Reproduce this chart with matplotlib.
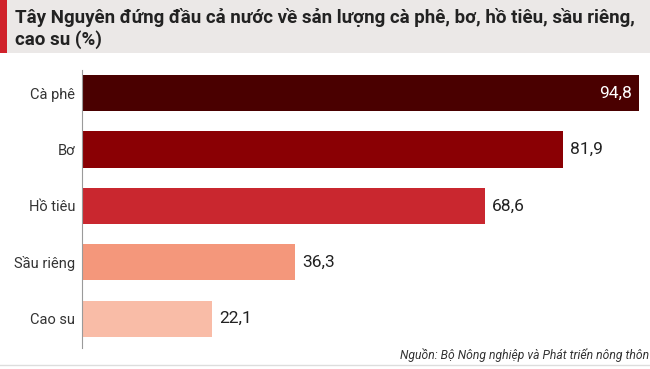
import matplotlib.pyplot as plt
from matplotlib.patches import Rectangle
from matplotlib.lines import Line2D

# data
crops = ["Cà phê", "Bơ", "Hồ tiêu", "Sầu riêng", "Cao su"]
shares = [94.8, 81.9, 68.6, 36.3, 22.1]
bar_colors = ["#4a0000", "#8a0004", "#c9272f", "#f4977b", "#f9bca7"]
title = "Tây Nguyên đứng đầu cả nước về sản lượng cà phê, bơ, hồ tiêu, sầu riêng,\ncao su (%)"
source = "Nguồn: Bộ Nông nghiệp và Phát triển nông thôn"

plt.rcParams['font.family'] = ['Roboto', 'DejaVu Sans']

W, H = 650, 369
fig = plt.figure(figsize=(W / 100, H / 100), dpi=100)
fig.patch.set_facecolor("white")

# title band
fig.patches.append(Rectangle((0, 1 - 53 / H), 1, 53 / H, transform=fig.transFigure,
                             facecolor="#ebe8e7", edgecolor="none", zorder=0))
fig.patches.append(Rectangle((0, 1 - 53 / H), 7 / W, 53 / H, transform=fig.transFigure,
                             facecolor="#d0222b", edgecolor="none", zorder=1))
fig.text(15 / W, 1 - 8 / H, title, ha="left", va="top", fontsize=13.5,
         fontweight="bold", color="#222222", linespacing=1.22)

ax = fig.add_axes([82 / W, 1 - 348 / H, 568 / W, 278 / H])
y = list(range(len(crops)))
ax.barh(y, shares, height=0.64, color=bar_colors, edgecolor="none")
ax.set_xlim(0, 96.7)
ax.set_ylim(4.52, -0.41)

for i, v in enumerate(shares):
    txt = f"{v:.1f}".replace(".", ",")
    if i == 0:
        ax.text(v - 1.2, i, txt, ha="right", va="center", color="white", fontsize=12.5)
    else:
        ax.text(v + 1.2, i, txt, ha="left", va="center", color="#222222", fontsize=12.5)

ax.set_yticks(y)
ax.set_yticklabels(crops, fontsize=10.5, color="#333333")
ax.tick_params(axis="y", length=0, pad=5)
ax.set_xticks([])
for s in ["top", "right", "bottom"]:
    ax.spines[s].set_visible(False)
ax.spines["left"].set_color("#9a9a9a")
ax.spines["left"].set_linewidth(0.8)

fig.text(649 / W, 1 - 355 / H, source, ha="right", va="center", fontsize=8.7,
         style="italic", color="#333333")
fig.lines.append(Line2D([0, 1], [1 - 365 / H] * 2, transform=fig.transFigure,
                        color="#dddddd", linewidth=1))

fig.savefig("out.png", dpi=100)
